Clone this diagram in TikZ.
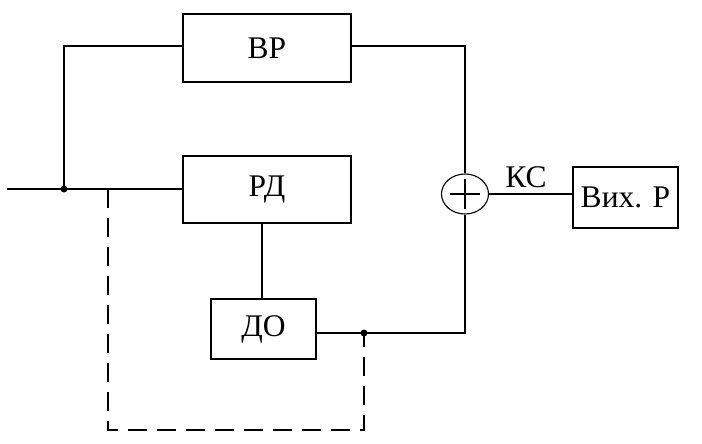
\documentclass[tikz,border=0pt]{standalone}
\usepackage{fontspec}
\setmainfont{Liberation Serif}
\usetikzlibrary{shapes.geometric}
\begin{document}
\begin{tikzpicture}[x=1pt,y=-1pt,line width=1.1pt,
  txt/.style={font=\fontsize{31.5}{32}\selectfont},
  blk/.style={draw,rectangle,minimum width=#1,inner sep=0pt,txt},
  dotn/.style={circle,fill,inner sep=0pt,minimum size=7pt},
  dsh/.style={dash pattern=on 19pt off 10pt}]
\useasboundingbox (0,0) rectangle (702,444);
\node[blk=168pt,minimum height=68pt] (vr) at (267,48) {ВР};
\node[blk=168pt,minimum height=67pt] (rd) at (267,189.5) {РД};
\node[blk=105pt,minimum height=60pt] (do) at (263.5,329) {ДО};
\node[blk=105pt,minimum height=61pt] (out) at (625.5,197.5) {Вих. Р};
\node[draw,ellipse,minimum width=47pt,minimum height=40pt,inner sep=0pt] (sum) at (465,194) {};
\draw (sum.center) ++(-15,0) -- ++(30,0);
\draw (sum.center) ++(0,-15) -- ++(0,30);
\coordinate (in) at (7,189);
\node[dotn] (d1) at (64,189) {};
\coordinate (br) at (108,189);
\node[dotn] (d2) at (364,333) {};
\draw (in) -- (rd.west |- in);
\draw (d1.center) -- (64,46) -- (vr.west |- 0,46);
\draw (vr.east |- 0,46) -- (465,46) -- (sum.north);
\draw (rd.south -| 262,0) -- (do.north -| 262,0);
\draw (do.east |- 0,333) -- (465,333) -- (sum.south);
\draw (sum.east) -- (out.west |- sum.east);
\node[txt] (ks) at (526,177) {КС};
\draw[dsh] (br) -- (108,430) -- (364,430) -- (d2.center);
\end{tikzpicture}
\end{document}
